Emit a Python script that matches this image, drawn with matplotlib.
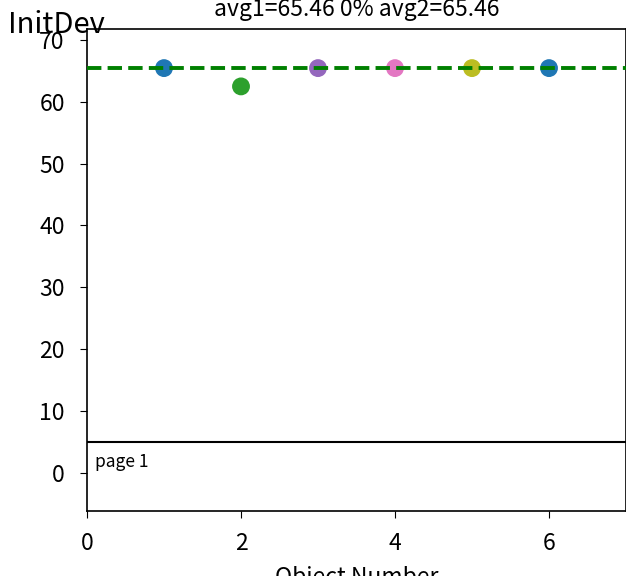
import matplotlib
matplotlib.use('Agg')
import matplotlib.pyplot as plt

plt.rcParams['font.family'] = ['Noto Sans CJK SC', 'DejaVu Sans']

obj_num = [1, 2, 3, 4, 5, 6]
init_dev = [65.46, 62.5, 65.46, 65.46, 65.46, 65.46]
colors = ['tab:blue', 'tab:green', 'tab:purple', 'tab:pink', 'tab:olive', 'tab:blue']
avg1 = 65.46
avg2 = 65.46
pct = 0

fig = plt.figure(figsize=(6.26, 5.76), dpi=100)
ax = fig.add_axes([0.139, 0.1128, 0.861, 0.837])

ax.scatter(obj_num, init_dev, c=colors, s=140, zorder=2)
ax.axhline(avg1, color='green', ls='--', lw=2.8, zorder=3)
ax.axhline(5, color='k', lw=1.5)
ax.text(0.1, 1, 'page 1', fontsize=12.5)

ax.set_xlim(0, 7)
ax.set_ylim(-6.2, 71.8)
ax.set_xticks([0, 2, 4, 6])
ax.tick_params(labelsize=16.5, length=5)
ax.tick_params(axis='x', pad=10)
ax.tick_params(axis='y', pad=11)
ax.set_title('avg1=%.2f %d%% avg2=%.2f' % (avg1, pct, avg2), fontsize=16.5, pad=9)
ax.set_xlabel('Object Number', fontsize=16.5, labelpad=8)
fig.text(0.012, 0.957, 'InitDev', fontsize=21, va='center')

for s in ax.spines.values():
    s.set_linewidth(1.2)

fig.savefig('out.png', dpi=100)
